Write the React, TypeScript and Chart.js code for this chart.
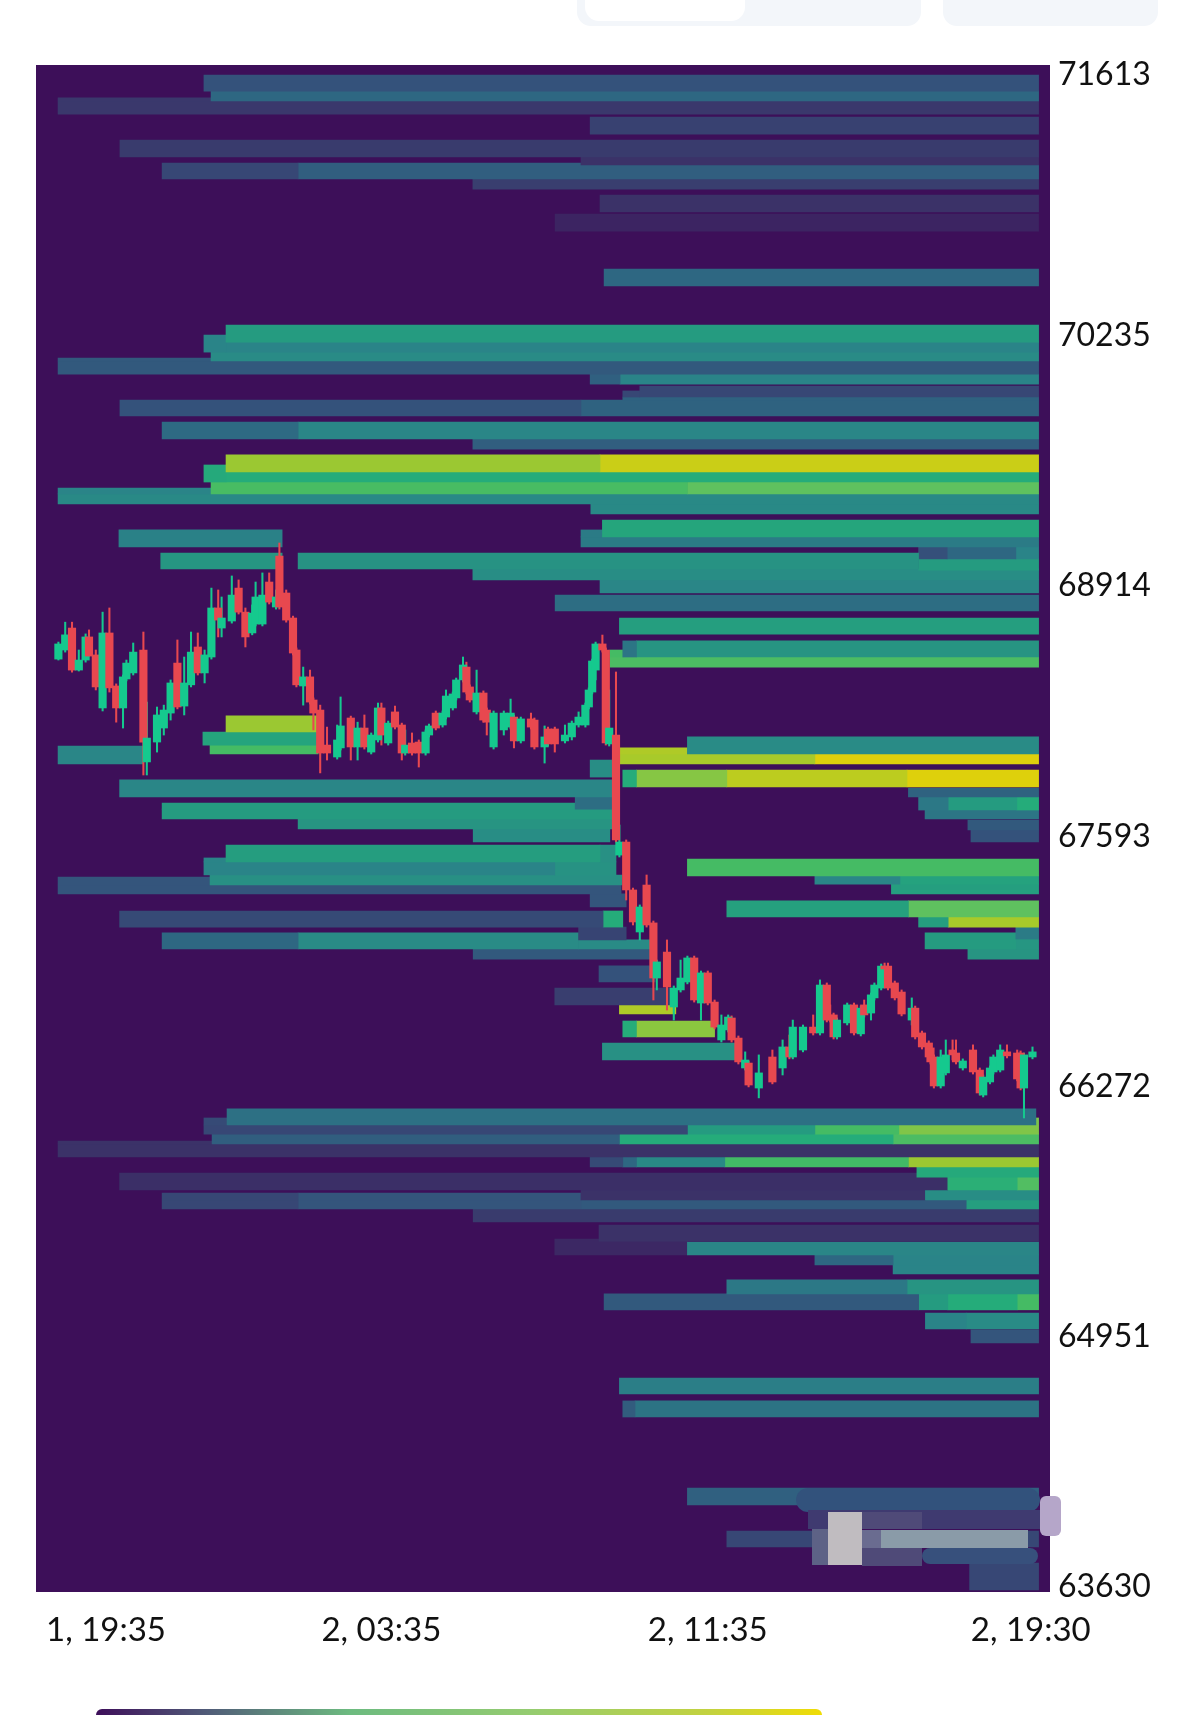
import React, { useEffect, useRef } from "react";
import { Chart, registerables } from "chart.js";

Chart.register(...registerables);

const E = 289.3;

// Order-book heat bands: [price high, price low, from candle slot, to candle slot, heat 0..1]
type Band = [number, number, number, number, number];

const bandsUpper: Band[] = [
  [71602, 71517, 43.8, E, 0.21], [71517, 71465, 45.9, E, 0.3], [71481, 71465, 0.9, 45.9, 0.12],
  [71465, 71396, 0.9, E, 0.12], [71380, 71290, 157.4, E, 0.15], [71259, 71169, 19.1, E, 0.13],
  [71169, 71127, 154.7, E, 0.1], [71137, 71053, 31.5, 71.5, 0.17], [71137, 71053, 71.5, 154.7, 0.26],
  [71127, 71053, 154.7, E, 0.26], [71053, 71000, 122.9, E, 0.14], [70968, 70879, 160.3, E, 0.1],
  [70868, 70778, 147.1, E, 0.06], [70578, 70488, 161.5, E, 0.3], [70282, 70192, 50.3, E, 0.5],
  [70229, 70139, 43.8, 50.3, 0.4], [70192, 70139, 50.3, E, 0.4], [70139, 70092, 45.9, E, 0.43],
  [70108, 70092, 0.9, 45.9, 0.24], [70092, 70023, 0.9, E, 0.24], [70023, 69970, 157.4, 166.2, 0.27],
  [70023, 69970, 166.2, E, 0.4], [69960, 69902, 172, E, 0.17], [69934, 69902, 167, 172, 0.17],
  [69902, 69886, 167, E, 0.28], [69886, 69802, 19.1, 154.7, 0.21], [69886, 69802, 154.7, E, 0.28],
  [69770, 69680, 31.5, 71.5, 0.31], [69770, 69680, 71.5, E, 0.41], [69680, 69627, 122.9, E, 0.26],
  [69596, 69506, 50.3, 160.3, 0.9], [69596, 69506, 160.3, E, 0.97], [69543, 69453, 43.8, 50.3, 0.58],
  [69506, 69453, 50.3, E, 0.6], [69453, 69390, 45.9, 186, 0.71], [69453, 69390, 186, E, 0.78],
  [69421, 69390, 0.9, 45.9, 0.4], [69390, 69337, 0.9, E, 0.42], [69337, 69284, 157.6, E, 0.42],
  [69252, 69163, 161, E, 0.56], [69200, 69163, 154.7, 161, 0.37], [69163, 69110, 154.7, E, 0.37],
  [69200, 69110, 18.8, 66.8, 0.39], [69078, 68994, 71.5, 254, 0.46], [69078, 68994, 31.1, 66.8, 0.48],
  [69110, 69047, 254, 262.4, 0.2], [69110, 69047, 262.4, 282.6, 0.3], [69110, 69047, 282.6, E, 0.4],
  [69047, 68988, 254, E, 0.5], [68994, 68936, 122.9, E, 0.44], [68936, 68867, 160.3, E, 0.41],
  [68856, 68772, 147.1, E, 0.32], [68735, 68650, 166, E, 0.52], [68614, 68529, 167, 171, 0.35],
  [68614, 68529, 171, E, 0.47], [68566, 68529, 163.2, 167, 0.7], [68529, 68476, 163.2, E, 0.72],
];

const bandsMiddle: Band[] = [
  [68218, 68133, 50.3, 77.4, 0.9], [68133, 68064, 43.5, 77.4, 0.55], [68064, 68017, 45.6, 77.4, 0.7],
  [68059, 67964, 0.9, 25.9, 0.41], [68107, 68017, 186, E, 0.43], [68049, 68017, 166, 186, 0.93],
  [68017, 67964, 166, 223.5, 0.92], [68017, 67964, 223.5, E, 1], [67932, 67843, 167, 171, 0.6],
  [67932, 67843, 171, 197.6, 0.86], [67932, 67843, 197.6, 250.6, 0.95], [67932, 67843, 250.6, E, 1],
  [67837, 67790, 251, E, 0.28], [67790, 67721, 254, 262.7, 0.36], [67790, 67721, 262.7, 282.9, 0.5],
  [67790, 67721, 282.9, E, 0.6], [67721, 67674, 255.9, E, 0.35], [67668, 67616, 268.5, E, 0.24],
  [67616, 67552, 269.4, E, 0.21],
  [67985, 67895, 157.4, 163.8, 0.44], [67880, 67790, 19, 163.8, 0.41], [67790, 67726, 153, 163.8, 0.32],
  [67758, 67726, 31.5, 153, 0.5], [67726, 67674, 31.5, 163.8, 0.5], [67674, 67621, 71.5, 163.8, 0.47],
  [67621, 67552, 123, 163.2, 0.44], [67536, 67447, 50.3, 160.3, 0.51], [67536, 67447, 160.3, 165, 0.45],
  [67468, 67447, 43.8, 50.3, 0.4], [67447, 67378, 43.8, 147, 0.4], [67447, 67378, 147, 165, 0.46],
  [67378, 67325, 45.6, 166.7, 0.45], [67367, 67325, 0.9, 45.6, 0.22], [67325, 67278, 0.9, 166.5, 0.22],
  [67278, 67209, 157.4, 168, 0.22], [67188, 67103, 19, 161.2, 0.18], [67188, 67103, 161.2, 167, 0.6],
  [67103, 67035, 154, 168, 0.16], [67072, 66987, 31.5, 71.5, 0.3], [67072, 66987, 71.5, 154, 0.43],
  [67035, 66987, 154, 175, 0.43], [66987, 66934, 123, 175, 0.24], [66898, 66813, 160, 176.5, 0.21],
  [66781, 66692, 147, 181, 0.14], [66692, 66644, 166, 182.6, 0.93], [66607, 66523, 167, 171, 0.6],
  [66607, 66523, 171, 194, 0.87], [66491, 66401, 161, 200, 0.45],
  [67462, 67373, 186, E, 0.7], [67373, 67330, 223.5, 248.5, 0.41], [67373, 67330, 248.5, E, 0.54],
  [67330, 67278, 246, E, 0.52], [67241, 67156, 197.6, 251, 0.53], [67241, 67156, 251, E, 0.78],
  [67156, 67103, 254, 262.7, 0.52], [67156, 67103, 262.7, E, 0.92], [67103, 67040, 282.6, E, 0.37],
  [67072, 66987, 255.9, 282.6, 0.5], [67040, 66987, 282.6, E, 0.48], [66987, 66934, 268.5, E, 0.47],
];

const bandsLower: Band[] = [
  [66143, 66058, 50.6, 288.5, 0.33], [66095, 66058, 288.5, E, 0.84], [66095, 66058, 43.8, 50.6, 0.18],
  [66058, 66010, 43.8, 186, 0.17], [66058, 66010, 186, 223.5, 0.5], [66058, 66010, 223.5, 248.2, 0.7],
  [66058, 66010, 248.2, E, 0.85], [66010, 65958, 46.2, 166, 0.26], [66010, 65958, 166, 246.5, 0.6],
  [66010, 65958, 246.5, E, 0.72], [65973, 65958, 0.9, 46.2, 0.1], [65958, 65889, 0.9, E, 0.1],
  [65889, 65836, 157.4, 167, 0.18], [65889, 65836, 167, 171, 0.3], [65889, 65836, 171, 197, 0.42],
  [65889, 65836, 197, 251, 0.69], [65889, 65836, 251, E, 0.9], [65836, 65783, 253.5, E, 0.58],
  [65783, 65715, 262.6, 283, 0.62], [65783, 65715, 283, E, 0.74], [65804, 65715, 19, 262.6, 0.09],
  [65715, 65662, 256, E, 0.44], [65715, 65662, 154.7, 256, 0.1], [65699, 65662, 31.5, 71.5, 0.17],
  [65699, 65662, 71.5, 154.7, 0.22], [65662, 65615, 31.5, 71.5, 0.17], [65662, 65615, 71.5, 154.7, 0.22],
  [65662, 65615, 154.7, 268, 0.24], [65662, 65615, 268, E, 0.52], [65615, 65546, 123, E, 0.13],
  [65530, 65445, 160, E, 0.1], [65440, 65372, 186, E, 0.41], [65456, 65372, 147, 186, 0.07],
  [65372, 65319, 223.5, 246.5, 0.3], [65372, 65319, 246.5, E, 0.4], [65319, 65271, 246.5, E, 0.4],
  [65240, 65166, 197.6, 250.6, 0.36], [65240, 65166, 250.6, E, 0.47], [65166, 65082, 161.5, 254, 0.24],
  [65166, 65082, 254, 262.6, 0.5], [65166, 65082, 262.6, 283, 0.6], [65166, 65082, 283, E, 0.7],
  [65065, 64981, 256, 268, 0.4], [65065, 64981, 268, E, 0.43], [64976, 64907, 269.4, E, 0.22],
  [64722, 64638, 166, E, 0.38], [64601, 64516, 167, 170.6, 0.25], [64601, 64516, 170.6, E, 0.34],
  [64141, 64052, 186, E, 0.27], [63914, 63830, 197.6, E, 0.17], [63745, 63603, 269, E, 0.17],
];

// Candles: [5-minute slot, open, close, high, low]
type Candle = [number, number, number, number, number];

const candlesEarly: Candle[] = [
  [1,68518,68598,68608,68513],[3,68566,68646,68713,68555],[5,68682,68460,68713,68449],[7,68460,68513,68566,68455],
  [9,68513,68635,68651,68502],[10,68635,68534,68672,68534],[12,68540,68371,68566,68355],[14,68260,68656,68766,68244],
  [16,68656,68366,68788,68344],[18,68376,68260,68387,68185],[20,68260,68424,68434,68154],[21,68413,68497,68513,68403],
  [23,68445,68555,68603,68434],[26,68566,68080,68661,67906],[27,67975,68101,68291,67906],[30,68080,68223,68265,68027],
  [32,68154,68249,68275,68117],[34,68233,68392,68408,68196],[36,68497,68265,68619,68255],[38,68270,68392,68529,68223],
  [40,68382,68555,68661,68371],[42,68582,68445,68656,68434],[44,68445,68540,68566,68392],[46,68529,68788,68893,68518],
  [48,68788,68724,68883,68635],[49,68682,68735,68846,68635],[52,68719,68856,68957,68708],[54,68893,68766,68936,68756],
  [56,68766,68635,68788,68582],[58,68656,68761,68804,68646],[59,68703,68846,68925,68693],[61,68703,68856,68973,68693],
  [63,68925,68819,68973,68809],[65,68793,68846,68883,68782],[66,69062,68793,69131,68782],[68,68867,68724,68883,68713],
  [70,68735,68550,68745,68540],[71,68566,68382,68577,68371],[73,68376,68424,68476,68275],[75,68424,68291,68460,68281],
  [76,68302,68233,68313,68144],[78,68249,68022,68275,67917],[80,68064,68022,68159,67985],[83,68001,68091,68170,67990],
  [84,68049,68165,68318,68038],[87,68207,68054,68217,67985],[89,68054,68154,68185,67985],[91,68154,68054,68223,68043],
  [93,68027,68117,68128,68017],[95,68091,68260,68286,68080],[96,68260,68117,68286,68064],[98,68075,68180,68191,68064],
  [100,68239,68159,68270,68149],[102,68170,68022,68180,67985],[103,68022,68064,68144,68011],[105,68075,68022,68128,68011],
];

const candlesMiddle: Candle[] = [
  [107,68080,68022,68091,67948],[109,68022,68133,68144,68011],[110,68117,68165,68175,68107],[112,68233,68154,68244,68144],
  [114,68170,68233,68244,68159],[115,68212,68323,68355,68202],[117,68260,68334,68344,68249],[118,68313,68408,68418,68302],
  [120,68408,68487,68529,68397],[121,68476,68344,68502,68334],[122,68371,68302,68382,68291],[124,68239,68339,68460,68228],
  [126,68339,68196,68350,68185],[127,68249,68185,68260,68117],[129,68054,68233,68244,68043],[132,68144,68233,68244,68117],
  [134,68159,68233,68307,68149],[135,68212,68086,68223,68049],[137,68086,68202,68212,68075],[140,68202,68159,68233,68149],
  [141,68196,68054,68207,68043],[144,68054,68107,68165,67969],[145,68149,68070,68159,68059],[147,68149,68070,68159,68027],
  [150,68086,68117,68170,68075],[152,68107,68180,68191,68091],[154,68170,68212,68239,68159],[156,68170,68275,68286,68159],
  [157,68265,68355,68366,68255],[158,68344,68508,68518,68334],[159,68460,68598,68608,68408],[161,68598,68566,68645,68555],
  [162,68566,68075,68577,68064],[163,68070,68154,68355,68059],[165,68117,67563,68450,67552],[166,67483,67552,67642,67473],
  [168,67552,67299,67563,67246],[170,67299,67130,67309,67114],[172,67077,67209,67220,67035],[174,67325,67114,67378,67103],
  [176,67125,66834,67135,66718],[177,66834,66919,66929,66771],[180,66971,66787,67035,66665],[182,66681,66781,66792,66612],
  [184,66771,66834,66929,66760],[186,66813,66940,66950,66803],[188,66940,66718,66950,66707],[190,66702,66861,66871,66612],
  [192,66861,66702,66871,66692],[194,66707,66575,66718,66565],[196,66507,66586,66639,66496],[198,66560,66628,66639,66549],
  [199,66623,66507,66634,66496],[201,66517,66391,66528,66380],[203,66359,66401,66444,66348],[204,66385,66269,66396,66259],
];

const candlesLate: Candle[] = [
  [207,66253,66333,66428,66201],[211,66417,66285,66454,66275],[214,66359,66470,66507,66322],[216,66470,66417,66533,66407],
  [217,66417,66575,66612,66407],[220,66454,66575,66586,66444],[223,66575,66544,66639,66533],[225,66544,66797,66824,66533],
  [227,66797,66612,66808,66602],[228,66639,66612,66692,66602],[229,66639,66523,66649,66512],[230,66523,66612,66623,66512],
  [233,66597,66692,66702,66586],[235,66692,66544,66702,66533],[237,66539,66675,66686,66528],[238,66692,66639,66718,66628],
  [240,66649,66745,66755,66612],[241,66729,66797,66808,66718],[243,66781,66897,66908,66771],[244,66897,66882,66913,66871],
  [245,66897,66781,66913,66771],[247,66808,66729,66818,66718],[249,66760,66644,66771,66634],[252,66612,66675,66729,66586],
  [253,66675,66523,66686,66512],[255,66544,66470,66554,66459],[257,66491,66417,66502,66407],[257.5,66465,66391,66475,66380],
  [258.5,66417,66264,66428,66253],[260.5,66264,66417,66454,66253],[262,66333,66428,66507,66322],[264,66454,66428,66507,66401],
  [265,66438,66391,66507,66380],[267,66359,66396,66407,66348],[270,66454,66338,66481,66327],[272,66348,66227,66359,66216],
  [273,66216,66311,66322,66206],[275,66285,66359,66370,66275],[276,66338,66417,66428,66327],[278,66348,66454,66481,66338],
  [280,66444,66423,66481,66412],[283,66438,66301,66454,66291],[284,66438,66253,66449,66243],[285,66253,66428,66438,66095],
  [287.5,66417,66444,66470,66407],
];

const yTicks = [71613, 70235, 68914, 67593, 66272, 64951, 63630];
const xTickSlots = [15, 96, 192, 287];
const xTickLabels = ["1, 19:35", "2, 03:35", "2, 11:35", "2, 19:30"];

const Y_MIN = 63592;
const Y_MAX = 71655;
const X_MIN = -5.59;
const X_MAX = 292.65;
const PLOT_HEIGHT = 1527;

const ramp: [number, [number, number, number]][] = [
  [0, [62, 15, 90]], [0.1, [59, 50, 104]], [0.2, [53, 80, 122]], [0.3, [46, 103, 130]],
  [0.4, [42, 132, 136]], [0.5, [37, 155, 128]], [0.6, [37, 172, 122]], [0.7, [69, 187, 100]],
  [0.8, [102, 194, 94]], [0.9, [155, 200, 50]], [1, [222, 208, 12]],
];

function heatColor(h: number): string {
  for (let i = 1; i < ramp.length; i++) {
    if (h <= ramp[i][0]) {
      const [a, ca] = ramp[i - 1];
      const [b, cb] = ramp[i];
      const t = (h - a) / (b - a);
      const c = ca.map((v, k) => Math.round(v + (cb[k] - v) * t));
      return `rgb(${c[0]},${c[1]},${c[2]})`;
    }
  }
  return "rgb(222,208,12)";
}

const GREEN = "#15c98e";
const RED = "#e8484f";

const plotBackground = {
  id: "plotBackground",
  beforeDatasetsDraw(chart: any) {
    const { ctx, chartArea: a } = chart;
    ctx.save();
    ctx.fillStyle = "#3d0f59";
    ctx.fillRect(a.left, a.top, a.right - a.left, a.bottom - a.top);
    ctx.restore();
  },
};

const maskBlocks: [number, number, number, number, string, number][] = [
  [796, 1488, 244, 24, "#32527c", 12],
  [808, 1510, 232, 19, "#3f3a70", 0],
  [1040, 1496, 21, 40, "#b5a6c9", 6],
  [812, 1529, 30, 36, "#5d6286", 0],
  [828, 1512, 34, 53, "#c0bcc0", 0],
  [862, 1512, 60, 17, "#4f4a78", 0],
  [881, 1530, 147, 18, "#8a9ba8", 0],
  [862, 1530, 19, 18, "#6a6c90", 0],
  [862, 1548, 60, 18, "#4f4a78", 0],
  [922, 1548, 116, 16, "#37507c", 8],
];

export default function App() {
  const ref = useRef<HTMLCanvasElement>(null);
  useEffect(() => {
    const candles = [...candlesEarly, ...candlesMiddle, ...candlesLate];
    const bands = [...bandsUpper, ...bandsMiddle, ...bandsLower];
    const pricePerPx = (Y_MAX - Y_MIN) / PLOT_HEIGHT;
    const common = { grouped: false, categoryPercentage: 1, barPercentage: 1, borderWidth: 0 };
    const candleColors = candles.map((c) => (c[2] >= c[1] ? GREEN : RED));
    const chart = new Chart(ref.current as HTMLCanvasElement, {
      type: "bar",
      plugins: [plotBackground],
      data: {
        datasets: [
          {
            ...common,
            label: "body",
            barThickness: 7.5,
            backgroundColor: candleColors,
            data: candles.map((c) => ({ x: c[0], y: [c[1], c[2]] })),
          },
          {
            ...common,
            label: "wick",
            barThickness: 1.4,
            backgroundColor: candleColors,
            data: candles.map((c) => ({ x: c[0], y: [c[4], c[3]] })),
          },
          ...bands.map((b) => ({
            ...common,
            indexAxis: "y",
            barThickness: (b[0] - b[1]) / pricePerPx,
            backgroundColor: heatColor(b[4]),
            data: [{ y: (b[0] + b[1]) / 2, x: [b[2], b[3]] }],
          })),
        ] as any,
      },
      options: {
        responsive: false,
        animation: false,
        layout: { padding: { left: 36, top: 65, right: 0, bottom: 0 } },
        plugins: { legend: { display: false }, tooltip: { enabled: false } },
        scales: {
          x: {
            type: "linear",
            min: X_MIN,
            max: X_MAX,
            offset: false,
            grid: { display: false, drawTicks: false, offset: false },
            border: { display: false },
            afterBuildTicks: (s: any) => {
              s.ticks = xTickSlots.map((v) => ({ value: v }));
            },
            afterFit: (s: any) => {
              s.height = 123;
            },
            ticks: {
              autoSkip: false,
              maxRotation: 0,
              padding: 19,
              color: "#111",
              font: { family: "Lato", size: 33, weight: "400" },
              callback: (v: any) => xTickLabels[xTickSlots.indexOf(Number(v))],
            },
          },
          y: {
            type: "linear",
            position: "right",
            min: Y_MIN,
            max: Y_MAX,
            offset: false,
            grid: { display: false, drawTicks: false, offset: false },
            border: { display: false },
            afterBuildTicks: (s: any) => {
              s.ticks = yTicks.map((v) => ({ value: v }));
            },
            afterFit: (s: any) => {
              s.width = 149;
            },
            ticks: {
              autoSkip: false,
              padding: 8,
              labelOffset: 2,
              color: "#111",
              font: { family: "Lato", size: 32, weight: "400" },
              callback: (v: any) => String(v),
            },
          },
        },
      },
    } as any);
    return () => chart.destroy();
  }, []);

  return (
    <div style={{ position: "absolute", left: 0, top: 0, width: 1199, height: 1715, overflow: "hidden", background: "#fff" }}>
      <div style={{ position: "absolute", left: 577, top: -20, width: 344, height: 46, borderRadius: 14, background: "#f3f6fa" }} />
      <div style={{ position: "absolute", left: 585, top: -20, width: 160, height: 41, borderRadius: 14, background: "#fff" }} />
      <div style={{ position: "absolute", left: 943, top: -20, width: 215, height: 46, borderRadius: 14, background: "#f3f6fa" }} />
      <canvas ref={ref} width={1199} height={1715} style={{ position: "absolute", left: 0, top: 0, display: "block" }} />
      {maskBlocks.map((m, i) => (
        <div
          key={i}
          style={{ position: "absolute", left: m[0], top: m[1], width: m[2], height: m[3], background: m[4], borderRadius: m[5] }}
        />
      ))}
      <div
        style={{
          position: "absolute",
          left: 96,
          top: 1709,
          width: 726,
          height: 12,
          borderRadius: 7,
          background: "linear-gradient(90deg,#3e0f5a 0%,#505a78 15%,#6dbb80 35%,#95cc70 60%,#c4d23e 85%,#f0dc05 100%)",
        }}
      />
    </div>
  );
}
